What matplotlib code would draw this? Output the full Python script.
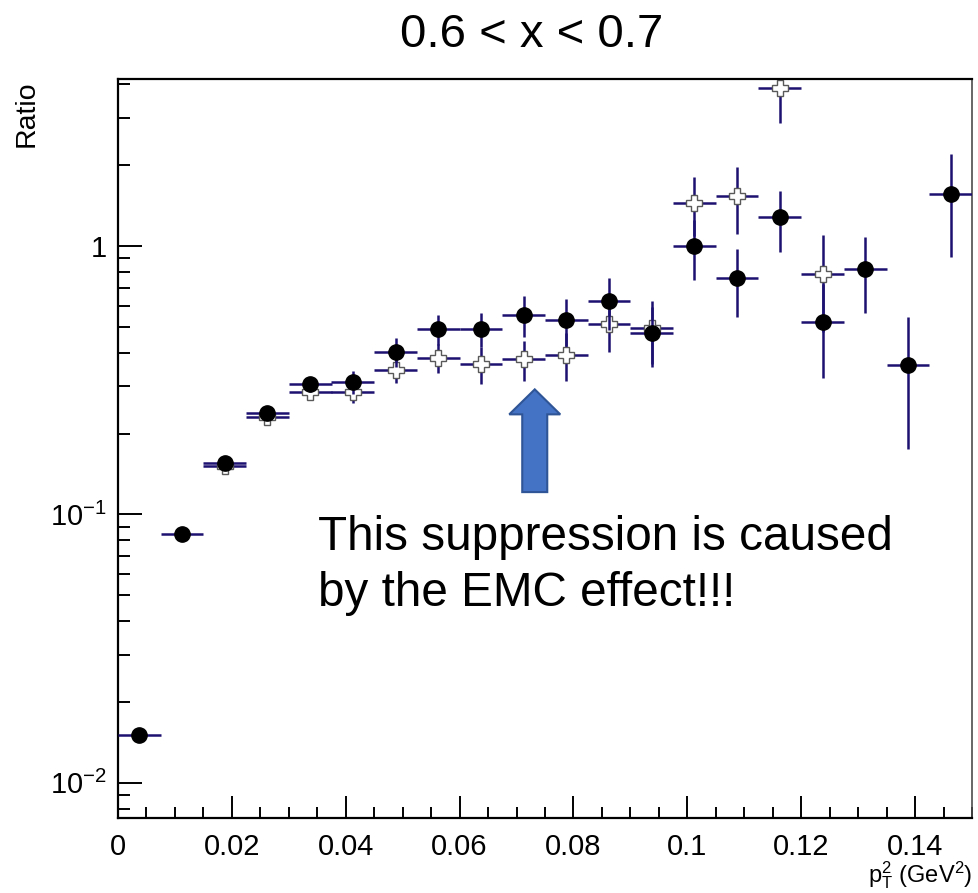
import numpy as np
import matplotlib
matplotlib.use("Agg")
import matplotlib.pyplot as plt
from matplotlib import patches
from matplotlib.ticker import FixedLocator, FuncFormatter, MultipleLocator

plt.rcParams['font.family'] = ['Liberation Sans', 'DejaVu Sans']
plt.rcParams['mathtext.fontset'] = 'custom'
plt.rcParams['mathtext.rm'] = 'Liberation Sans'
plt.rcParams['mathtext.it'] = 'Liberation Sans'
plt.rcParams['mathtext.default'] = 'regular'

# bins in pT^2 (GeV^2), width 0.0075
bin_edges = np.linspace(0.0, 0.15, 21)

# filled circles
ratio_a = [0.0151, 0.0846, 0.1555, 0.239, 0.306, 0.312, 0.403, 0.491, 0.491, 0.553,
           0.530, 0.624, 0.474, 1.00, 0.760, 1.28, 0.521, 0.821, 0.360, 1.56]
err_a = [0.0005, 0.002, 0.004, 0.008, 0.02, 0.03, 0.05, 0.062, 0.072, 0.096,
         0.105, 0.136, 0.12, 0.25, 0.215, 0.33, 0.20, 0.26, 0.185, 0.65]

# open crosses (no entry in the first two and last three bins)
ratio_b = [np.nan, np.nan, 0.152, 0.231, 0.286, 0.286, 0.345, 0.383, 0.363, 0.379,
           0.393, 0.513, 0.495, 1.446, 1.535, 3.88, 0.787, np.nan, np.nan, np.nan]
err_b = [np.nan, np.nan, 0.005, 0.01, 0.02, 0.025, 0.035, 0.047, 0.057, 0.064,
         0.08, 0.11, 0.13, 0.36, 0.43, 1.0, 0.31, np.nan, np.nan, np.nan]

title = "0.6 < x < 0.7"
note = "This suppression is caused\nby the EMC effect!!!"

centers = 0.5 * (bin_edges[1:] + bin_edges[:-1])
half_w = 0.5 * np.diff(bin_edges)

fig = plt.figure(figsize=(9.79, 8.93), dpi=100)
ax = fig.add_axes([118 / 979, 1 - 818 / 893, 854 / 979, 739 / 893])

navy = '#1c1070'
ax.errorbar(centers, ratio_b, xerr=half_w, yerr=err_b, fmt='P', ms=12,
            mfc='white', mec='0.35', mew=1.0, ecolor=navy, elinewidth=1.8,
            capsize=0, zorder=2)
ax.errorbar(centers, ratio_a, xerr=half_w, yerr=err_a, fmt='o', ms=11,
            mfc='black', mec='black', ecolor=navy, elinewidth=1.8,
            capsize=0, zorder=3)

ax.set_yscale('log')
ax.set_xlim(0, 0.15)
ax.set_ylim(0.0074, 4.19)

ax.xaxis.set_major_locator(MultipleLocator(0.02))
ax.xaxis.set_minor_locator(MultipleLocator(0.005))
ax.xaxis.set_major_formatter(FuncFormatter(lambda v, p: '0' if v == 0 else f'{v:g}'))
ax.yaxis.set_major_locator(FixedLocator([0.01, 0.1, 1]))
minors = [m * 10.0 ** e for e in (-3, -2, -1, 0) for m in range(2, 10)]
ax.yaxis.set_minor_locator(FixedLocator(minors))
ax.yaxis.set_major_formatter(FuncFormatter(
    lambda v, p: '1' if abs(v - 1) < 1e-9 else r'$10^{%d}$' % round(np.log10(v))))

ax.tick_params(axis='both', which='both', direction='in', width=1.4,
               top=False, right=False, labelsize=21)
ax.tick_params(axis='x', which='major', length=16, pad=11)
ax.tick_params(axis='x', which='minor', length=8)
ax.tick_params(axis='y', which='major', length=17, pad=8)
ax.tick_params(axis='y', which='minor', length=8.5)

for side in ('left', 'bottom', 'top'):
    ax.spines[side].set_linewidth(1.6)
ax.spines['right'].set_linewidth(1.2)
ax.spines['right'].set_color('0.3')

fig.text(532 / 979, 1 - 35 / 893, title, fontsize=34, ha='center', va='center')
fig.text(27 / 979, 1 - 80 / 893, 'Ratio', fontsize=20.5, rotation=90,
         ha='center', va='top')
fig.text(972 / 979, 1 - 891 / 893, r'$p_{T}^{2}$ (GeV$^{2}$)', fontsize=17,
         ha='right', va='bottom')

# annotation arrow and text
arrow = patches.FancyArrow(0.488, 0.441, 0, 0.139, width=0.0293,
                           head_width=0.0597, head_length=0.0338,
                           length_includes_head=True, transform=ax.transAxes,
                           facecolor='#4472C4', edgecolor='#2F5597', lw=1.5,
                           zorder=4)
ax.add_patch(arrow)
ax.text(0.234, (818 - 515) / 739, note, transform=ax.transAxes, fontsize=34.3,
        ha='left', va='top', linespacing=1.32)

fig.savefig('out.png', dpi=100)
